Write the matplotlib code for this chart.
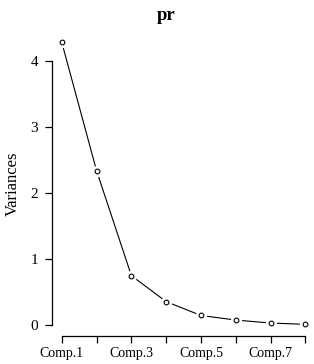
import matplotlib
matplotlib.use("Agg")
import matplotlib.pyplot as plt
import numpy as np

title = "pr"
components = ["Comp.1", "Comp.2", "Comp.3", "Comp.4", "Comp.5", "Comp.6", "Comp.7", "Comp.8"]
variances = [4.29, 2.34, 0.745, 0.35, 0.14, 0.07, 0.025, 0.005]
y_ticks = [0, 1, 2, 3, 4]
shown_labels = ["Comp.1", "Comp.3", "Comp.5", "Comp.7"]

plt.rcParams["font.family"] = ["Liberation Serif", "DejaVu Serif"]

fig = plt.figure(figsize=(3.14, 3.64), dpi=100)
ax = fig.add_axes([0.1656, 0.077, 0.838, 0.838])

x = np.arange(1, len(components) + 1)
ax.plot(x, variances, color="black", linewidth=0.8, zorder=1)
# white halo so the line stops short of each point (R type="b")
ax.plot(x, variances, linestyle="none", marker="o", markersize=7,
        markerfacecolor="white", markeredgecolor="white", zorder=2)
ax.plot(x, variances, linestyle="none", marker="o", markersize=3.4,
        markerfacecolor="white", markeredgecolor="black", markeredgewidth=0.8, zorder=3)

xpad = 0.04 * (x[-1] - x[0])
ax.set_xlim(x[0] - xpad, x[-1] + xpad)
ymax = max(variances)
ax.set_ylim(-0.04 * ymax, ymax * 1.04)

for side in ("top", "right"):
    ax.spines[side].set_visible(False)
ax.spines["left"].set_bounds(y_ticks[0], y_ticks[-1])
ax.spines["bottom"].set_bounds(x[0], x[-1])
for side in ("left", "bottom"):
    ax.spines[side].set_linewidth(0.9)

ax.set_yticks(y_ticks)
ax.set_yticklabels([str(v) for v in y_ticks])
ax.set_xticks(x)
ax.set_xticklabels([c if c in shown_labels else "" for c in components])
ax.tick_params(axis="both", direction="out", length=5, width=0.9, labelsize=10, pad=3)
ax.tick_params(axis="y", pad=5, labelsize=11)

ax.set_ylabel("Variances", fontsize=12, labelpad=7)
fig.text(0.53, 0.958, title, ha="center", va="center", fontsize=13.5, fontweight="bold")

fig.savefig("out.png", dpi=100)
